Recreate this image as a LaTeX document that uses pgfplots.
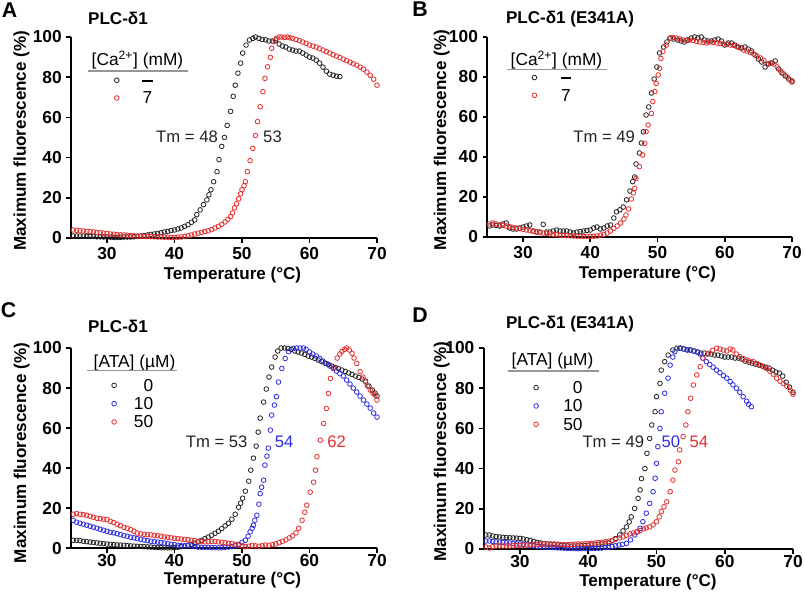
\documentclass[border=0pt]{standalone}
\usepackage{pgfplots}
\pgfplotsset{compat=1.18}
\usepackage{fontspec}
\setmainfont{Liberation Sans}
\definecolor{myred}{RGB}{228,45,45}
\definecolor{myblue}{RGB}{45,45,225}
\definecolor{myblack}{RGB}{35,35,35}
\definecolor{rulegray}{RGB}{150,150,150}
\newcommand{\fTk}{\fontsize{13}{13}\selectfont\bfseries}
\newcommand{\fLb}{\fontsize{12.8}{12.8}\selectfont\bfseries}
\newcommand{\fLg}{\fontsize{13}{13}\selectfont}
\newcommand{\fTm}{\fontsize{12.5}{12.5}\selectfont}
\pgfplotsset{
  panel/.style={
    scale only axis, anchor=south west,
    xmin=24.7, xmax=70, ymin=0, ymax=100,
    axis lines*=left,
    axis line style={line width=1.6pt, black},
    xtick={30,40,50,60,70}, ytick={0,20,40,60,80,100},
    minor tick num=0,
    tick align=outside, major tick length=3.6pt,
    tick style={line width=1.3pt, black},
    ticklabel style={font=\fTk},
    /pgf/number format/assume math mode=true,
    clip=false,
    legend image code/.code={\draw[mark=o,##1] plot coordinates {(0pt,0pt)};},
    legend style={draw=none, fill=none, inner xsep=0pt, inner ysep=0pt, anchor=north west,
      nodes={inner sep=0pt, text height=9pt, text depth=0pt, font=\fLg}},
  },
  pts/.style={only marks, mark=o, mark size=1.75pt, mark options={solid, line width=0.6pt, draw=#1}, color=#1},
}
\begin{document}
\begin{tikzpicture}[x=0.75pt, y=-0.75pt]
\useasboundingbox (0,0) rectangle (805,596);

% ---------------- Panel A ----------------
\begin{axis}[panel, at={(53.4pt,-178.5pt)}, width=229.35pt, height=150.75pt,
  legend style={at={(axis description cs:0.1406,0.816)}, row sep=4.3pt, column sep=13.7pt}]
\addplot[pts=myblack] coordinates {
(25,1)(25.5,1)(26,1)(26.5,1)(27,0.8)(27.5,0.8)(28,0.8)(28.5,0.6)(29,0.6)(29.5,0.5)(30,0.5)(30.5,0.4)(31,0.3)(31.5,0.3)(32,0.3)(32.5,0.5)(33,0.5)(33.5,0.5)(34,0.6)(34.5,0.8)(35,1)(35.5,1.2)(36,1.5)(36.5,1.8)(37,2)(37.5,2.3)(38,2.6)(38.5,3)(39,3.3)(39.5,3.7)(40,4)(40.5,4.5)(41,5)(41.5,5.8)(42,6.6)(42.5,7.8)(43,9)(43.3,11.6)(43.8,14)(44.3,16.6)(44.8,19)(45.1,21.5)(45.4,24)(45.8,28)(46.3,33)(46.6,39)(47,45.6)(47.4,50)(47.8,56)(48.3,63)(48.7,70.5)(49,76)(49.4,82)(49.8,87)(50.1,92)(50.6,96)(51.1,98.5)(51.6,99.3)(52,100)(52.5,99.3)(53,98.8)(53.5,98.6)(54,98)(54.5,98)(55,98.5)(55.5,96.5)(56,95.5)(56.5,95)(57,94)(57.5,93.5)(58,93)(58.5,93)(59,92)(59.5,91)(60,90)(60.5,89.5)(61,88.5)(61.5,87)(62,85)(62.5,83)(63,81.5)(63.5,81)(64,80.5)(64.5,80.3)
};
\addlegendentry{\makebox[15pt][c]{\rule[3.4pt]{8pt}{1.6pt}}}
\addplot[pts=myred] coordinates {
(25,4)(25.5,3.8)(26,3.6)(26.5,3.5)(27,3.3)(27.5,3.2)(28,3)(28.5,2.8)(29,2.6)(29.5,2.4)(30,2.2)(30.5,2)(31,1.9)(31.5,1.7)(32,1.6)(32.5,1.5)(33,1.4)(33.5,1.2)(34,1.1)(34.5,1)(35,0.9)(35.5,0.8)(36,0.8)(36.5,0.7)(37,0.6)(37.5,0.5)(38,0.5)(38.5,0.4)(39,0.4)(39.5,0.3)(40,0.3)(40.5,0.4)(41,0.5)(41.5,0.8)(42,1.1)(42.5,1.5)(43,2)(43.5,2.4)(44,2.8)(44.5,3.2)(45,3.6)(45.5,4.2)(46,5)(46.5,5.8)(47,6.8)(47.5,8)(47.9,9.3)(48.3,10.6)(48.6,12.5)(48.9,15)(49.2,17)(49.5,19.5)(49.8,22)(50,24)(50.3,26)(50.5,28)(50.8,33)(51.2,38.5)(51.6,44.6)(52,51)(52.3,57.9)(52.7,65.3)(53.1,72.8)(53.4,79.4)(53.8,85.2)(54.2,89.9)(54.4,94.4)(54.7,97.7)(55.1,99.3)(55.5,100)(55.9,100)(56.3,99.8)(56.7,100)(57.1,99.6)(57.5,99.3)(58,98.8)(58.5,98.2)(59,97.5)(59.5,96.8)(60,96)(60.5,95.5)(61,95)(61.5,94.2)(62,93.5)(62.5,92.7)(63,92)(63.5,91.2)(64,90.5)(64.5,89.8)(65,89)(65.5,88.2)(66,87.5)(66.5,86.7)(67,86)(67.5,85)(68,84)(68.5,82.5)(69,81)(69.5,79)(70,76)
};
\addlegendentry{\makebox[15pt][c]{7}}
\end{axis}

% ---------------- Panel B ----------------
\begin{axis}[panel, at={(365.55pt,-177.75pt)}, width=228.45pt, height=150pt,
  legend style={at={(axis description cs:0.1458,0.8285)}, row sep=4.3pt, column sep=14.4pt}]
\addplot[pts=myblack] coordinates {
(25,5.5)(25.5,6)(26,5.8)(26.5,5.5)(27,6.5)(27.5,7)(28,4.5)(28.5,4)(29,4)(29.5,4.5)(30,5)(30.5,5.5)(31,6)(31.5,3)(32,2.5)(32.5,2.5)(33,6.3)(33.5,2.5)(34,2.5)(34.5,3)(35,3.5)(35.5,3)(36,3)(36.5,3)(37,2.5)(37.5,2)(38,2.5)(38.5,2.7)(39,3)(39.5,3.3)(40,3.5)(40.5,4.5)(41,5)(41.5,4)(42,4.5)(42.5,5.5)(43,6)(43.5,9.5)(43.9,12.6)(44.4,13.6)(44.9,15)(45.4,18.6)(45.9,23)(46.3,27.7)(46.6,30)(46.8,36.5)(47.3,42)(47.6,47)(47.9,52.6)(48.3,61)(48.7,65)(49.1,72)(49.5,79)(49.9,85)(50.3,92)(50.9,95)(51.4,97.5)(51.9,99.5)(52.4,99)(53,98.5)(53.5,98)(54,97.5)(54.5,98.5)(55,99.5)(55.5,100)(56,99.5)(56.5,100)(57,98.5)(57.5,98)(58,98)(58.5,98.5)(59,99)(59.5,98)(60,96)(60.5,97)(61,97)(61.5,96)(62,95)(62.5,94.5)(63,95)(63.5,94)(64,93)(64.5,91)(65,89)(65.5,87.5)(66,85)(66.5,86.5)(67,87)(67.5,88)(68,84)(68.5,82)(69,80.5)(69.5,79)(70,78)
};
\addlegendentry{\makebox[15pt][c]{\rule[3.4pt]{8pt}{1.6pt}}}
\addplot[pts=myred] coordinates {
(25,6.5)(25.5,7)(26,6.5)(26.5,6)(27,5.8)(27.5,5.5)(28,5.2)(28.5,4.8)(29,4.5)(29.5,4.2)(30,3.8)(30.5,3.5)(31,3.2)(31.5,2.8)(32,2.6)(32.5,2.3)(33,2)(33.5,1.8)(34,1.5)(34.5,1.3)(35,1.1)(35.5,0.9)(36,0.8)(36.5,0.7)(37,0.6)(37.5,0.5)(38,0.4)(38.5,0.4)(39,0.3)(39.5,0.3)(40,0.3)(40.5,0.4)(41,0.5)(41.5,0.9)(42,1.3)(42.5,2)(43,3)(43.5,4.3)(44,5.5)(44.5,7)(45,9)(45.3,11)(45.7,14)(46.1,19)(46.4,22)(46.6,24.3)(46.8,29.3)(47.3,35.2)(47.8,41)(48.1,46.8)(48.3,52.7)(48.6,56)(49.1,61.8)(49.3,67.7)(49.6,72.7)(49.8,76.8)(50.1,81)(50.3,84.3)(50.5,89.3)(50.8,92.7)(51.3,96)(51.8,99.3)(52.3,99.8)(52.8,99.5)(53.3,99)(53.8,98.5)(54.3,98.3)(54.8,98.5)(55.3,98.3)(55.8,97.8)(56.3,97.5)(56.8,97.3)(57.3,97)(57.8,97.5)(58.3,97.3)(58.8,97)(59.3,96.8)(59.8,96.5)(60.3,96.3)(60.8,96)(61.3,95.8)(61.8,95.2)(62.3,94.5)(62.8,93.5)(63.3,93)(63.8,92.3)(64.3,91.5)(64.8,90.5)(65.3,89.5)(65.8,88.3)(66.3,86.5)(66.8,87)(67.3,86.5)(67.8,85)(68.3,83)(68.8,81.5)(69.3,80)(69.7,78.5)(70,77.5)
};
\addlegendentry{\makebox[15pt][c]{7}}
\end{axis}

% ---------------- Panel C ----------------
\begin{axis}[panel, at={(53.4pt,-411.2pt)}, width=229.35pt, height=150.2pt,
  xticklabel style={yshift=2.5pt},
  legend style={at={(axis description cs:0.1318,0.845)}, row sep=4.75pt, column sep=7.6pt}]
\addplot[pts=myblack] coordinates {
(25,4)(25.5,4)(26,3.8)(26.5,3.5)(27,3.3)(27.5,3.1)(28,2.9)(28.5,2.7)(29,2.5)(29.5,2.3)(30,2.1)(30.5,2)(31,1.8)(31.5,1.7)(32,1.6)(32.5,1.5)(33,1.3)(33.5,1.2)(34,1.1)(34.5,1)(35,0.9)(35.5,0.8)(36,0.7)(36.5,0.6)(37,0.5)(37.5,0.4)(38,0.3)(38.5,0.3)(39,0.2)(39.5,0.2)(40,0.3)(40.5,0.5)(41,0.8)(41.5,1.1)(42,1.5)(42.5,2)(43,2.5)(43.5,3.2)(44,4)(44.5,4.8)(45,5.6)(45.5,6.5)(46,7.5)(46.5,8.5)(47,9.8)(47.5,11.2)(48,12.5)(48.5,14.5)(49,17)(49.5,20.5)(49.8,22.5)(50.1,25)(50.5,28.5)(51,33.5)(51.3,39)(51.7,45)(52.1,51)(52.4,58)(52.7,65)(53.2,73)(53.6,79.5)(54,85.5)(54.4,90.5)(54.9,95.5)(55.3,98.5)(55.8,100)(56.3,100)(56.8,99.8)(57.3,99.3)(57.8,98.5)(58.3,98)(58.8,97.5)(59.3,96.8)(59.8,96)(60.3,95.5)(60.8,94.8)(61.3,94)(61.8,93.2)(62.3,92.5)(62.8,91.8)(63.3,91)(63.8,90.3)(64.3,89.7)(64.8,89)(65.3,88.3)(65.8,87.5)(66.3,86.8)(66.8,86)(67.3,85.3)(67.8,84.5)(68.3,83.5)(68.8,81)(69.3,79)(69.7,77.5)(70,76)
};
\addlegendentry{\makebox[20pt][r]{0}}
\addplot[pts=myblue] coordinates {
(25,14)(25.5,13)(26,12.5)(26.5,12)(27,11.5)(27.5,11)(28,10.5)(28.5,10)(29,9.5)(29.5,9)(30,8.5)(30.5,8)(31,7.7)(31.5,7.3)(32,6.8)(32.5,6.3)(33,6)(33.5,5.5)(34,5.2)(34.5,4.8)(35,4.5)(35.5,4.1)(36,3.8)(36.5,3.5)(37,3.3)(37.5,3.1)(38,2.9)(38.5,2.6)(39,2.3)(39.5,2)(40,1.8)(40.5,1.5)(41,1.3)(41.5,1.2)(42,1.5)(42.5,1.2)(43,0.8)(43.5,0.6)(44,0.5)(44.5,0.5)(45,0.5)(45.5,0.4)(46,0.3)(46.5,0.2)(47,0.3)(47.5,0.5)(48,0.6)(48.5,0.8)(49,1.2)(49.5,2)(50,3)(50.5,4)(50.9,6)(51.2,8.2)(51.5,10)(51.7,11.5)(51.9,14)(52.2,16.5)(52.5,22)(52.7,27.3)(52.9,30.5)(53.2,34)(53.4,41.5)(53.7,46)(53.9,50)(54.2,59)(54.4,66.5)(54.8,71.5)(55.1,75.7)(55.4,83)(55.9,89.8)(56.4,94.8)(56.9,98.2)(57.6,99.8)(58.1,100)(58.6,100)(59.1,100)(59.5,99.3)(60,98)(60.5,97)(61,96)(61.5,94.8)(62,93.5)(62.5,92.2)(63,91)(63.5,89.8)(64,88.5)(64.5,87.2)(65,86)(65.5,84)(66,82)(66.5,80)(67,78)(67.5,76)(68,74)(68.5,72)(69,70)(69.5,67.5)(70,65.5)
};
\addlegendentry{\makebox[20pt][r]{10}}
\addplot[pts=myred] coordinates {
(25,17)(25.5,17.3)(26,17)(26.5,16.8)(27,16.5)(27.5,16)(28,15.5)(28.5,15)(29,14.8)(29.5,14.5)(30,14.3)(30.5,13.5)(31,12.8)(31.5,12)(32,11.3)(32.5,10.5)(33,10)(33.5,9.3)(34,8.5)(34.5,7.6)(35,7.2)(35.5,7)(36,6.8)(36.5,6.7)(37,6.5)(37.5,6.3)(38,6)(38.5,5.7)(39,5.5)(39.5,5.2)(40,5)(40.5,4.8)(41,4.6)(41.5,4.4)(42,4.3)(42.5,4)(43,3.8)(43.5,3.5)(44,3.3)(44.5,3.2)(45,3.3)(45.5,3.5)(46,3.4)(46.5,3.2)(47,3)(47.5,2.8)(48,2.5)(48.5,2.3)(49,2)(49.5,1.5)(50,1.2)(50.5,0.8)(51,1)(51.5,1.5)(52,1.2)(52.5,1)(53,1.3)(53.5,1.6)(54,1.5)(54.5,1.8)(55,2.2)(55.5,2.8)(56,3.5)(56.5,4.2)(57,5.2)(57.5,6.2)(58,7.7)(58.4,10)(58.9,14)(59.3,18)(59.6,21.5)(60.1,28)(60.6,33)(60.9,39)(61.1,45.7)(61.6,54)(62.1,62.3)(62.5,69.8)(62.8,77.3)(63.1,84.8)(63.6,90)(64.1,95)(64.5,97)(64.8,98.3)(65.2,99.3)(65.5,100)(65.9,99)(66.3,97.3)(66.6,95)(67,92.3)(67.5,88.2)(67.9,85.5)(68.3,83)(68.6,81)(69,79)(69.4,77.5)(69.7,76.5)(70,74)
};
\addlegendentry{\makebox[20pt][r]{50}}
\end{axis}

% ---------------- Panel D ----------------
\begin{axis}[panel, at={(362.85pt,-411.75pt)}, width=231.9pt, height=150.75pt,
  xticklabel style={yshift=2pt},
  legend style={at={(axis description cs:0.1607,0.834)}, row sep=4.75pt, column sep=13.1pt}]
\addplot[pts=myblack] coordinates {
(25,7)(25.5,7)(26,6.5)(26.5,6.2)(27,6)(27.5,5.8)(28,5.7)(28.5,5.6)(29,5.5)(29.5,5.4)(30,5.3)(30.5,5)(31,4.6)(31.5,4.3)(32,3.8)(32.5,3.3)(33,3)(33.5,2.7)(34,2.5)(34.5,2.3)(35,2.2)(35.5,2)(36,1.8)(36.5,1.6)(37,1.5)(37.5,1.4)(38,1.4)(38.5,1.5)(39,1.6)(39.5,1.7)(40,1.8)(40.5,2)(41,2.1)(41.5,2.3)(42,2.5)(42.5,2.7)(43,3)(43.5,4)(44,5.2)(44.6,7)(45.1,9)(45.6,11)(46,13.5)(46.3,16)(46.8,20.2)(47.3,25.2)(47.6,29.4)(47.8,35)(48.3,40)(48.6,47.6)(49,55)(49.3,61.7)(49.8,68.3)(50,75.8)(50.5,82.4)(50.7,89)(51.2,93.2)(51.7,96.5)(52.4,99)(53,99.9)(53.5,100)(54,99.5)(54.5,99)(55,99)(55.5,98.5)(56,98)(56.5,97.5)(57,97.5)(57.5,97)(58,97)(58.5,96.5)(59,96.5)(59.5,96)(60,95.5)(60.5,95.5)(61,95.5)(61.5,95)(62,95)(62.5,94.5)(63,93.5)(63.5,93)(64,92.5)(64.5,92)(65,91.5)(65.5,91)(66,90.5)(66.5,90)(67,89)(67.5,88)(68,87.5)(68.5,86)(69,83)(69.5,80.5)(70,78)
};
\addlegendentry{\makebox[20pt][r]{0}}
\addplot[pts=myblue] coordinates {
(25,4)(25.5,4)(26,3.8)(26.5,3.6)(27,3.4)(27.5,3.3)(28,3.1)(28.5,3)(29,2.8)(29.5,2.6)(30,2.5)(30.5,2.3)(31,2)(31.5,1.8)(32,1.6)(32.5,1.4)(33,1.2)(33.5,1)(34,0.9)(34.5,0.8)(35,0.7)(35.5,0.6)(36,0.5)(36.5,0.4)(37,0.3)(37.5,0.3)(38,0.2)(38.5,0.2)(39,0.2)(39.5,0.2)(40,0.2)(40.5,0.3)(41,0.3)(41.5,0.4)(42,0.5)(42.5,0.7)(43,0.9)(43.5,1.2)(44,1.6)(44.5,2)(45,2.3)(45.6,2.8)(46.2,4.5)(46.8,7)(47.2,8.5)(47.6,10.3)(48,13.6)(48.5,17.8)(49,22.7)(49.5,28.5)(49.8,35.2)(50,42.6)(50.2,50.9)(50.5,60)(50.7,68.3)(51.2,77.5)(51.7,85)(52,91.5)(52.4,95.5)(52.7,98.2)(53.4,99.9)(54,99.5)(54.5,99.2)(54.9,99)(55.5,98.5)(56,98)(56.4,97)(56.8,95)(57.3,93.2)(57.8,91.8)(58.3,90.5)(58.8,89)(59.3,87.7)(59.8,86.3)(60.3,85)(60.8,83.3)(61.2,81.7)(61.7,80)(62.2,78)(62.7,75.8)(63.2,73.5)(63.5,72)(63.9,70.8)
};
\addlegendentry{\makebox[20pt][r]{10}}
\addplot[pts=myred] coordinates {
(25,1)(25.5,0.5)(26,1.2)(26.5,1.5)(27,1.5)(27.5,1.5)(28,1.5)(28.5,1.5)(29,1.6)(29.5,1.7)(30,1.8)(30.5,1.9)(31,2)(31.5,2.1)(32,2.2)(32.5,2.3)(33,2.4)(33.5,2.5)(34,2.5)(34.5,2.5)(35,2.5)(35.5,2.4)(36,2.3)(36.5,2.2)(37,2.2)(37.5,2.3)(38,2.4)(38.5,2.5)(39,2.5)(39.5,2.6)(40,2.7)(40.5,2.8)(41,3)(41.5,3.2)(42,3.4)(42.5,3.6)(43,3.9)(43.5,4.3)(44,4.8)(44.6,5.5)(45.1,6)(45.6,6.8)(46.1,7.5)(46.6,8)(47.1,8.5)(47.6,9.2)(48.1,10)(48.5,10.5)(49,11)(49.5,12)(50,13.6)(50.4,16)(50.7,18.6)(51.1,21)(51.5,23.5)(52,28.5)(52.4,34.3)(52.7,39.3)(53.2,43.4)(53.4,49.3)(53.9,55.9)(54.3,61.7)(54.6,68.3)(55,75)(55.4,81.6)(55.9,86.6)(56.4,90.7)(56.8,94.9)(57.6,97.4)(58.2,98.8)(58.8,99.9)(59.3,99.5)(59.8,99)(60.3,98.5)(60.8,99.5)(61.2,99)(61.7,97)(62.2,95.7)(62.7,94.8)(63.2,94)(63.7,93.5)(64.2,93.2)(64.7,92.3)(65.2,91.5)(65.7,90.6)(66.1,89.9)(66.6,88.5)(67.1,87)(67.6,85)(68.1,83.5)(68.6,82.3)(69.1,81)(69.6,79)(70,77)
};
\addlegendentry{\makebox[20pt][r]{50}}
\end{axis}

% ---------------- Texts ----------------
\node[font=\fontsize{16}{16}\selectfont\bfseries] at (9.5,10) {A};
\node[font=\fontsize{16}{16}\selectfont\bfseries] at (420,9.5) {B};
\node[font=\fontsize{16}{16}\selectfont\bfseries] at (8.5,310.5) {C};
\node[font=\fontsize{16}{16}\selectfont\bfseries] at (420,315.5) {D};

\node[font=\fLb] at (118,18.5) {PLC-δ1};
\node[font=\fLb] at (570,19) {PLC-δ1 (E341A)};
\node[font=\fLb] at (118,326.7) {PLC-δ1};
\node[font=\fLb] at (570,324) {PLC-δ1 (E341A)};

\node[font=\fLb] at (232.5,275.5) {Temperature (°C)};
\node[font=\fLb] at (647.5,274.5) {Temperature (°C)};
\node[font=\fLb] at (232.5,580) {Temperature (°C)};
\node[font=\fLb] at (648,582) {Temperature (°C)};
\node[font=\fLb, rotate=90] at (21.5,140.8) {Maximum fluorescence (\%)};
\node[font=\fLb, rotate=90] at (441.7,140) {Maximum fluorescence (\%)};
\node[font=\fLb, rotate=90] at (21.7,453) {Maximum fluorescence (\%)};
\node[font=\fLb, rotate=90] at (441.7,451.5) {Maximum fluorescence (\%)};

% legend headers and rules
\node[font=\fLg] at (137.5,60) {[Ca\textsuperscript{2+}] (mM)};
\draw[rulegray, line width=0.8pt] (88,71) -- (188,71);
\node[font=\fLg] at (556.5,60) {[Ca\textsuperscript{2+}] (mM)};
\draw[rulegray, line width=0.8pt] (507,69.3) -- (607,69.3);
\node[font=\fLg] at (134.5,363.3) {[ATA] (µM)};
\draw[rulegray, line width=0.8pt] (87,370.7) -- (177,370.7);
\node[font=\fLg] at (552.5,360.8) {[ATA] (µM)};
\draw[rulegray, line width=0.8pt] (508,371) -- (599,371);

% Tm labels
\node[font=\fTm, text=myblack] at (187,136.7) {Tm = 48};
\node[font=\fTm, text=myblack] at (272.5,136.7) {53};
\node[font=\fTm, text=myblack] at (604.2,136.7) {Tm = 49};
\node[font=\fTm, text=myblack] at (216.7,441.7) {Tm = 53};
\node[font=\fTm, text=myblue] at (284.2,441.7) {54};
\node[font=\fTm, text=myred] at (336.7,441.7) {62};
\node[font=\fTm, text=myblack] at (613.3,441.7) {Tm = 49};
\node[font=\fTm, text=myblue] at (670.8,441.7) {50};
\node[font=\fTm, text=myred] at (698.8,441.7) {54};
\end{tikzpicture}
\end{document}
